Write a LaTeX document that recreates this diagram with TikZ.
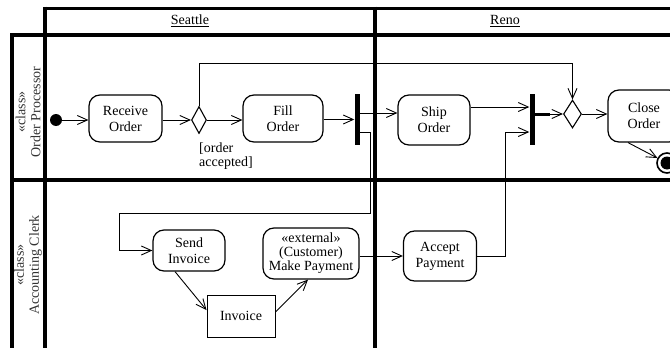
\documentclass[tikz,border=0pt]{standalone}
\usepackage{fontspec}
\setmainfont{Liberation Serif}
\usetikzlibrary{shapes.geometric,arrows.meta,calc}
\begin{document}
\begin{tikzpicture}[x=1pt,y=-1pt,
  txt/.style={font=\fontsize{14}{16}\selectfont},
  act/.style={txt,draw,rounded corners=11pt,line width=1.2pt,align=center,inner sep=0pt},
  objbox/.style={txt,draw,line width=1pt,align=center,inner sep=0pt},
  bar/.style={fill=black,draw=none,minimum width=5pt,minimum height=51pt,inner sep=0pt},
  dec/.style={diamond,draw,line width=1.1pt,inner sep=0pt},
  arr/.style={line width=0.9pt,-{Straight Barb[length=10pt,width=9pt,line width=0.9pt]}},
  ln/.style={line width=0.9pt},
  lane/.style={line width=4pt},
  lanelabel/.style={font=\fontsize{14}{15}\selectfont,rotate=90,align=center,text=black!80},
]
\path[use as bounding box] (0,0) rectangle (670,348);
\clip (0,0) rectangle (670,348);

% swimlane frame
\draw[line width=3pt] (45,8) -- (690,8);
\draw[lane] (12,35) -- (690,35);
\draw[lane] (12,180) -- (690,180);
\draw[lane] (12,33) -- (12,360);
\draw[lane] (45,6.5) -- (45,360);
\draw[lane] (375,6.5) -- (375,360);

\node[txt] (seattle) at (190,21) {\underline{Seattle}};
\node[txt] (reno) at (505,21) {\underline{Reno}};
\node[lanelabel] (lop) at (28,112) {«class»\\Order Processor};
\node[lanelabel] (lac) at (28,265) {«class»\\Accounting Clerk};

% nodes
\node[circle,fill=black,minimum size=12pt,inner sep=0pt] (init) at (56,120) {};
\node[act,minimum width=73pt,minimum height=47pt] (recv) at (125.5,118.5) {Receive\\Order};
\node[dec,minimum width=15pt,minimum height=27pt] (d1) at (199,120) {};
\node[act,minimum width=80pt,minimum height=47pt] (fill) at (283,118.5) {Fill\\Order};
\node[bar] (b1) at (357,119.5) {};
\node[act,minimum width=72pt,minimum height=50pt] (ship) at (434,120) {Ship\\Order};
\node[bar] (b2) at (532,119.5) {};
\node[dec,minimum width=18pt,minimum height=28pt] (d2) at (572.5,114) {};
\node[act,minimum width=72pt,minimum height=52pt] (close) at (644,116) {Close\\Order};
\node[circle,draw,line width=1.6pt,minimum size=20pt,inner sep=0pt] (fin) at (667,163) {};
\fill (fin.center) circle (6.5pt);

\node[txt,align=left,anchor=north west,inner sep=0pt,font=\fontsize{14}{14}\selectfont] (guard) at (199,143) {[order\\accepted]};

\node[act,minimum width=72pt,minimum height=41pt] (send) at (189,250.5) {Send\\Invoice};
\node[act,minimum width=96pt,minimum height=51pt,font=\fontsize{14}{14}\selectfont] (pay) at (311,253.5) {«external»\\(Customer)\\Make Payment};
\node[objbox,minimum width=68pt,minimum height=42pt] (inv) at (241,316) {Invoice};
\node[act,minimum width=73pt,minimum height=50pt] (accept) at (440,256) {Accept\\Payment};

% connectors
\draw[arr] (init) -- (recv.west |- init);
\draw[arr] (recv.east |- d1.west) -- (d1.west);
\draw[arr] (d1.east) -- (fill.west |- d1.east);
\draw[arr] (fill.east |- b1.west) -- (b1.west);
\draw[arr] (b1.east |- 0,113) -- (ship.west |- 0,113);
\draw[arr] (b1.east |- 0,132) -| (370,213) -- (119,213) |- (send.west);
\draw[arr] (d1.north) -- (d1.north |- 0,63) -| (d2.north);
\draw[arr] (ship.east |- 0,107) -- (b2.west |- 0,107);
\draw[line width=3pt] (b2.east |- d2.west) -- ++(15,0);
\draw[arr] (b2.east |- d2.west) -- (d2.west);
\draw[arr] (d2.east) -- (close.west |- d2.east);
\draw[arr] ([xshift=-16pt]close.south) -- (fin);
\draw[arr] ([xshift=-14pt]send.south) -- ([yshift=6pt]inv.west);
\draw[arr] ([yshift=4pt]inv.east) -- ([xshift=-3pt]pay.south);
\draw[arr] (pay.east |- accept.west) -- (accept.west);
\draw[arr] (accept.east) -| (505,132) -- (b2.west |- 0,132);
\end{tikzpicture}
\end{document}
